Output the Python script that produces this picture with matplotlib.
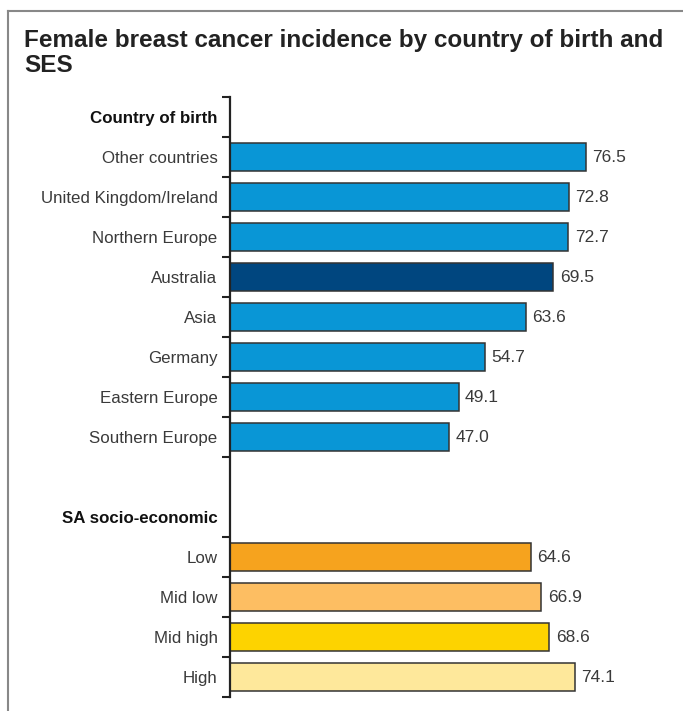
import numpy as np
import matplotlib.pyplot as plt
from matplotlib.lines import Line2D

plt.rcParams['font.family'] = ['Liberation Sans', 'DejaVu Sans']

# Data
country_labels = ["Other countries", "United Kingdom/Ireland", "Northern Europe",
                  "Australia", "Asia", "Germany", "Eastern Europe", "Southern Europe"]
country_values = [76.5, 72.8, 72.7, 69.5, 63.6, 54.7, 49.1, 47.0]
country_colors = ["#0996d6", "#0996d6", "#0996d6", "#00467f",
                  "#0996d6", "#0996d6", "#0996d6", "#0996d6"]

ses_labels = ["Low", "Mid low", "Mid high", "High"]
ses_values = [64.6, 66.9, 68.6, 74.1]
ses_colors = ["#f6a31e", "#fdbe62", "#fdd300", "#fee89b"]

headers = ["Country of birth", "SA socio-economic"]

# row positions (0 = top)
country_pos = np.arange(1, 9)
ses_pos = np.arange(11, 15)
header_pos = [0, 10]

fig = plt.figure(figsize=(6.83, 7.11), dpi=100)
ax = fig.add_axes([230 / 683, 1 - 697 / 711, 440 / 683, 600 / 711])

ax.barh(country_pos, country_values, height=0.72, color=country_colors,
        edgecolor="#333333", linewidth=1.1)
ax.barh(ses_pos, ses_values, height=0.72, color=ses_colors,
        edgecolor="#333333", linewidth=1.1)

for p, v in zip(list(country_pos) + list(ses_pos), country_values + ses_values):
    ax.text(v + 1.4, p, f"{v:.1f}", va="center", ha="left", fontsize=12.5, color="#3a3a3a")

ax.set_xlim(0, 440 / 4.654)
ax.set_ylim(14.5, -0.5)

# labels as major ticks without marks
ax.set_yticks(header_pos + list(country_pos) + list(ses_pos))
ax.set_yticklabels(headers + country_labels + ses_labels, fontsize=12.2, color="#3a3a3a")
for lab in ax.get_yticklabels()[:2]:
    lab.set_fontweight("bold")
    lab.set_color("#111111")
ax.tick_params(axis="y", which="major", length=0, pad=9)

# boundary tick marks
bounds = [b - 0.5 for b in range(0, 10)] + [b + 0.5 for b in range(10, 15)]
ax.set_yticks(bounds, minor=True)
ax.tick_params(axis="y", which="minor", length=6, width=1.5, color="#222222", direction="out")

ax.set_xticks([])
for s in ["top", "right", "bottom"]:
    ax.spines[s].set_visible(False)
ax.spines["left"].set_linewidth(1.6)
ax.spines["left"].set_color("#222222")

fig.text(24 / 683, 1 - 72 / 711, "Female breast cancer incidence by country of birth and\nSES",
         fontsize=17.5, fontweight="bold", color="#222222", va="baseline", ha="left",
         linespacing=1.12)

# outer frame
fig.add_artist(Line2D([8 / 683, 1], [1 - 11 / 711, 1 - 11 / 711], color="#888888", lw=1.5))
fig.add_artist(Line2D([8 / 683, 8 / 683], [0, 1 - 11 / 711], color="#888888", lw=1.5))

fig.savefig("out.png", dpi=100)
